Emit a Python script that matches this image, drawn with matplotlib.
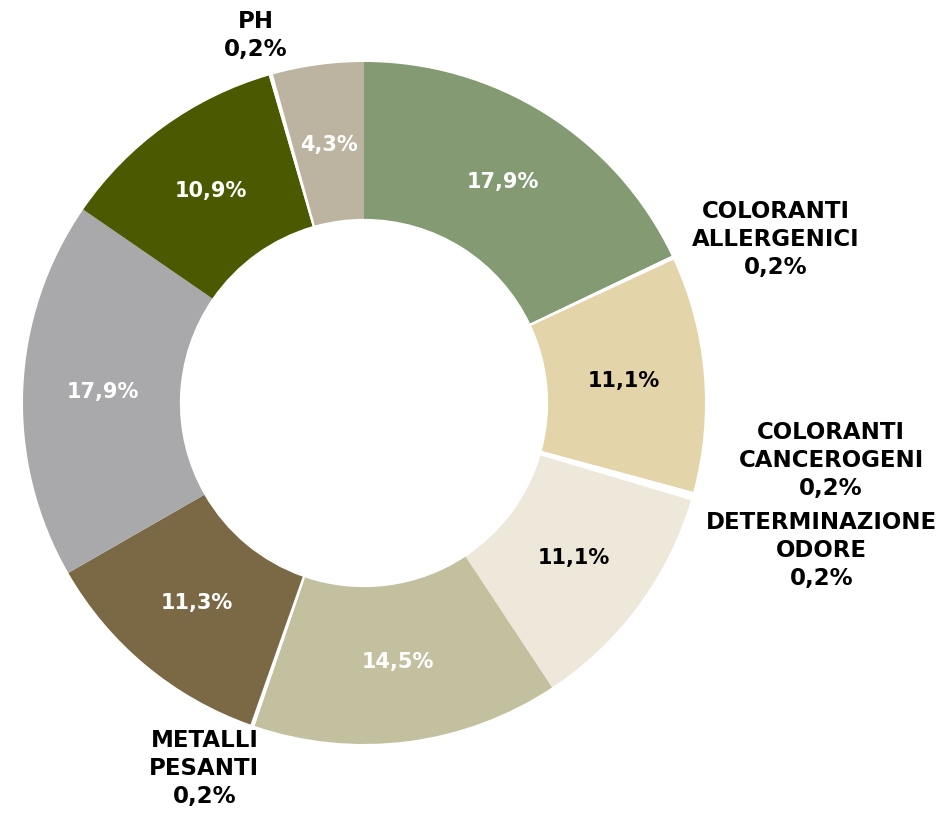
import matplotlib.pyplot as plt
import numpy as np

# Quote dei parametri analizzati (in senso orario partendo dall'alto)
categorie = ['A', 'COLORANTI\nALLERGENICI', 'B', 'COLORANTI\nCANCEROGENI',
             'DETERMINAZIONE\nODORE', 'C', 'D', 'METALLI\nPESANTI', 'E', 'F', 'G',
             'PH', 'H']
valori = [17.9, 0.2, 11.1, 0.2, 0.2, 11.1, 14.5, 0.2, 11.3, 17.9, 10.9, 0.2, 4.3]
colori = ['#839a73', '#ffffff', '#e4d4aa', '#ffffff', '#ffffff', '#ede8da',
          '#c3c0a0', '#ffffff', '#7b6946', '#a9a9ab', '#4b5900', '#ffffff',
          '#bdb3a1']
colori_testo = ['white', None, 'black', None, None, 'black', 'white', None,
                'white', 'white', 'white', None, 'white']

# etichette esterne per le fette piccole: (raggio, spostamento angolare in gradi)
posizioni_esterne = {
    'COLORANTI\nALLERGENICI': (1.30, -3.5),
    'COLORANTI\nCANCEROGENI': (1.38, 8.5),
    'DETERMINAZIONE\nODORE': (1.41, -1.7),
    'METALLI\nPESANTI': (1.17, -4.5),
    'PH': (1.125, 0.6),
}

def fmt(v):
    return f'{v:.1f}%'.replace('.', ',')

fig = plt.figure(figsize=(9.51, 8.27), dpi=100)
ax = fig.add_axes([0, 0, 1, 1])

wedges, _ = ax.pie(valori, colors=colori, startangle=90, counterclock=False,
                   radius=1.0, wedgeprops=dict(width=0.46, linewidth=0))

for w, cat, v, ct in zip(wedges, categorie, valori, colori_testo):
    ang = np.deg2rad((w.theta1 + w.theta2) / 2)
    if cat in posizioni_esterne:
        r, da = posizioni_esterne[cat]
        a = ang + np.deg2rad(da)
        ax.text(r * np.cos(a), r * np.sin(a), f'{cat}\n{fmt(v)}',
                ha='center', va='center', fontsize=16.5, fontweight='bold',
                color='black', linespacing=1.28, family='DejaVu Sans')
    else:
        r = 0.765
        ax.text(r * np.cos(ang), r * np.sin(ang), fmt(v), ha='center',
                va='center', fontsize=15, fontweight='bold', color=ct,
                family='DejaVu Sans')

ax.set_xlim(-364 / 341, 587 / 341)
ax.set_ylim(-424 / 341, 403 / 341)
ax.set_aspect('equal')
ax.axis('off')

fig.savefig('out.png', dpi=100)
